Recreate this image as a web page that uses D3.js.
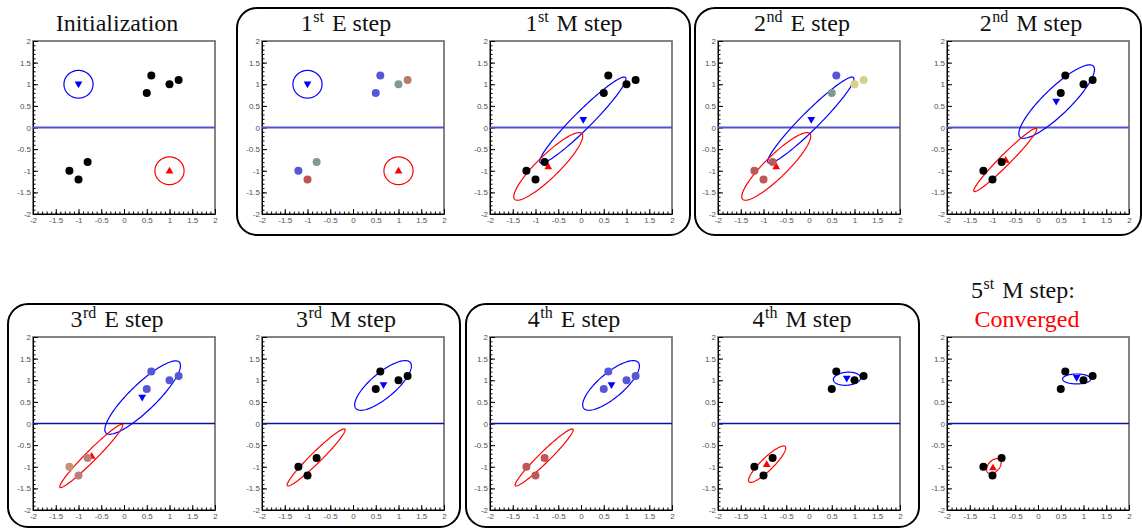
<!DOCTYPE html>
<html><head><meta charset="utf-8">
<script src="https://cdn.jsdelivr.net/npm/d3@7"></script>
<style>body{margin:0;background:#fff;} svg{display:block;}</style>
</head><body>
<svg id="c" width="1142" height="529"></svg>
<script>
// ---- data ----
const pointX = [-1.2, -1.0, -0.8, 0.5, 0.6, 1.0, 1.2];
const pointY = [-1.0, -1.2, -0.8, 0.8, 1.2, 1.0, 1.1];
const tickValues = [-2, -1.5, -1, -0.5, 0, 0.5, 1, 1.5, 2];
const tickLabels = ["-2", "-1.5", "-1", "-0.5", "0", "0.5", "1", "1.5", "2"];
const stepNumbers = ["", "1", "1", "2", "2", "3", "3", "4", "4", "5"];
const stepSups = ["", "st", "st", "nd", "nd", "rd", "rd", "th", "th", "st"];
const stepNames = ["Initialization", " E step", " M step", " E step", " M step", " E step", " M step", " E step", " M step", " M step:"];
const convergedLabel = "Converged";
// point colours (responsibilities) per step
const black = ["#000", "#000", "#000", "#000", "#000", "#000", "#000"];
const colorsE1 = ["#5656d8", "#c05454", "#7f9a90", "#5656d8", "#5656d8", "#7f9a90", "#b87a70"];
const colorsE2 = ["#c05656", "#c05656", "#c05656", "#7f9a90", "#5656d8", "#d8d088", "#d8d088"];
const colorsE3 = ["#c49474", "#b8807a", "#b8807a", "#5656d8", "#5656d8", "#5656d8", "#5656d8"];
const colorsE4 = ["#c05656", "#c05656", "#c05656", "#5656d8", "#5656d8", "#5656d8", "#5656d8"];
const stepColors = [black, colorsE1, black, colorsE2, black, colorsE3, black, colorsE4, black, black];
// Gaussian components: [cx, cy, semi-major, semi-minor, angle deg]
const blueComp = [
  [-1, 1, 0.32, 0.32, 0], [-1, 1, 0.32, 0.32, 0],
  [0.04, 0.17, 1.36, 0.2, 46.5], [0.04, 0.17, 1.36, 0.2, 46.5],
  [0.41, 0.6, 1.15, 0.3, 45.7], [0.41, 0.6, 1.15, 0.3, 45.7],
  [0.66, 0.88, 0.8, 0.28, 42], [0.66, 0.88, 0.8, 0.28, 42],
  [0.835, 1.035, 0.30, 0.15, 5], [0.85, 1.03, 0.31, 0.115, 0]
];
const redComp = [
  [1, -1, 0.32, 0.32, 0], [1, -1, 0.32, 0.32, 0],
  [-0.72, -0.9, 1.06, 0.25, 46], [-0.72, -0.9, 1.06, 0.25, 46],
  [-0.72, -0.75, 1.0, 0.12, 46.6], [-0.72, -0.75, 1.0, 0.12, 46.6],
  [-0.81, -0.785, 0.91, 0.12, 46], [-0.81, -0.785, 0.91, 0.12, 46],
  [-0.92, -0.94, 0.57, 0.14, 46], [-0.97, -0.985, 0.2, 0.125, 50]
];
const blueMeanX = [-1, -1, 0.05, 0.05, 0.4, 0.4, 0.67, 0.67, 0.83, 0.85];
const blueMeanY = [1, 1, 0.18, 0.18, 0.6, 0.6, 0.89, 0.89, 1.04, 1.06];
const redMeanX = [1, 1, -0.72, -0.72, -0.71, -0.71, -0.8, -0.8, -0.93, -0.99];
const redMeanY = [-1, -1, -0.9, -0.9, -0.75, -0.75, -0.8, -0.8, -0.94, -1.02];

// ---- layout ----
const svg = d3.select("#c");
const PW = 182, PH = 173;
const colLeft = [33, 262, 490, 718, 947];
const rowTop = [41, 337];
const SERIF = "Liberation Serif";

// rounded group boxes
const boxes = [[237, 8, 453, 227], [695, 8, 446, 227], [8, 304, 452, 223], [466, 304, 453, 223]];
boxes.forEach(b => svg.append("rect").attr("x", b[0]).attr("y", b[1]).attr("width", b[2]).attr("height", b[3])
  .attr("rx", 20).attr("ry", 20).attr("fill", "none").attr("stroke", "#000").attr("stroke-width", 2));

function ellipsePts(c) {
  const [cx, cy, a, b, ang] = c;
  const th = ang * Math.PI / 180;
  return d3.range(0, 121).map(i => {
    const t = i / 120 * 2 * Math.PI;
    return [cx + a * Math.cos(th) * Math.cos(t) - b * Math.sin(th) * Math.sin(t),
            cy + a * Math.sin(th) * Math.cos(t) + b * Math.cos(th) * Math.sin(t)];
  });
}

// titles
for (let p = 0; p < 10; p++) {
  const row = p < 5 ? 0 : 1;
  const left = colLeft[p % 5];
  const cx = left + (p === 9 ? 76 : 84);
  const base = p === 9 ? 298 : (row === 0 ? 31 : 327);
  const t = svg.append("text").attr("x", cx).attr("y", base).attr("text-anchor", "middle")
    .attr("font-family", SERIF).attr("font-size", 24).attr("fill", "#111");
  if (stepSups[p]) {
    t.append("tspan").text(stepNumbers[p]);
    t.append("tspan").attr("font-size", 16).attr("dy", -9).attr("dx", 0.5).text(stepSups[p]);
    t.append("tspan").attr("dy", 9).attr("dx", 2).text(stepNames[p]);
  } else t.text(stepNames[p]);
  if (p === 9) {
    svg.append("text").attr("x", left + 80).attr("y", 327).attr("text-anchor", "middle")
      .attr("font-family", SERIF).attr("font-size", 24).attr("fill", "#ff0000").text(convergedLabel);
  }
}

for (let p = 0; p < 10; p++) {
  const row = p < 5 ? 0 : 1;
  const col = p % 5;
  const left = colLeft[col], top = rowTop[row];
  const g = svg.append("g").attr("transform", `translate(${left},${top})`);
  const x = d3.scaleLinear().domain([-2, 2]).range([0, PW]);
  const y = d3.scaleLinear().domain([-2, 2]).range([PH, 0]);

  g.append("rect").attr("width", PW).attr("height", PH).attr("fill", "#fff")
    .attr("stroke", "#666").attr("stroke-width", 1.6);

  const minor = d3.range(-20, 21).map(v => v / 10);
  g.append("g").call(d3.axisLeft(y).tickValues(minor).tickSize(-2.5).tickFormat("").tickSizeOuter(0))
    .call(s => s.select(".domain").remove()).call(s => s.selectAll("text").remove())
    .selectAll("line").attr("stroke", "#000");
  g.append("g").attr("transform", `translate(0,${PH})`)
    .call(d3.axisBottom(x).tickValues(minor).tickSize(-2.5).tickFormat("").tickSizeOuter(0))
    .call(s => s.select(".domain").remove()).call(s => s.selectAll("text").remove())
    .selectAll("line").attr("stroke", "#000");
  const ya = g.append("g").call(d3.axisLeft(y).tickValues(tickValues).tickSize(-5).tickPadding(2)
    .tickSizeOuter(0).tickFormat((d, i) => tickLabels[i]));
  const xa = g.append("g").attr("transform", `translate(0,${PH})`)
    .call(d3.axisBottom(x).tickValues(tickValues).tickSize(-5).tickPadding(3)
    .tickSizeOuter(0).tickFormat((d, i) => tickLabels[i]));
  [ya, xa].forEach(a => {
    a.attr("font-family", "Liberation Sans").attr("font-size", 8);
    a.selectAll("text").attr("fill", "#505050");
    a.select(".domain").attr("stroke", "#000");
  });

  g.append("line").attr("x1", x(-2)).attr("x2", x(2)).attr("y1", y(0)).attr("y2", y(0))
    .attr("stroke", row === 0 ? "#5252cc" : "#1010a0").attr("stroke-width", row === 0 ? 2 : 1.5);

  const line = d3.line().x(d => x(d[0])).y(d => y(d[1])).curve(d3.curveLinearClosed);
  g.append("path").attr("d", line(ellipsePts(blueComp[p]))).attr("fill", "none")
    .attr("stroke", "#0000ff").attr("stroke-width", 1.2);
  g.append("path").attr("d", line(ellipsePts(redComp[p]))).attr("fill", "none")
    .attr("stroke", "#ff0000").attr("stroke-width", 1.2);

  g.append("path").attr("d", d3.symbol(d3.symbolTriangle, 26)())
    .attr("transform", `translate(${x(blueMeanX[p])},${y(blueMeanY[p]) - 0.5}) rotate(180)`).attr("fill", "#0000ff");
  g.append("path").attr("d", d3.symbol(d3.symbolTriangle, 26)())
    .attr("transform", `translate(${x(redMeanX[p])},${y(redMeanY[p]) + 0.5})`).attr("fill", "#ff0000");

  g.selectAll("circle.pt").data(pointX).join("circle").attr("class", "pt")
    .attr("cx", (d, i) => x(pointX[i])).attr("cy", (d, i) => y(pointY[i])).attr("r", 4)
    .attr("fill", (d, i) => stepColors[p][i]);
}
</script>
</body></html>
